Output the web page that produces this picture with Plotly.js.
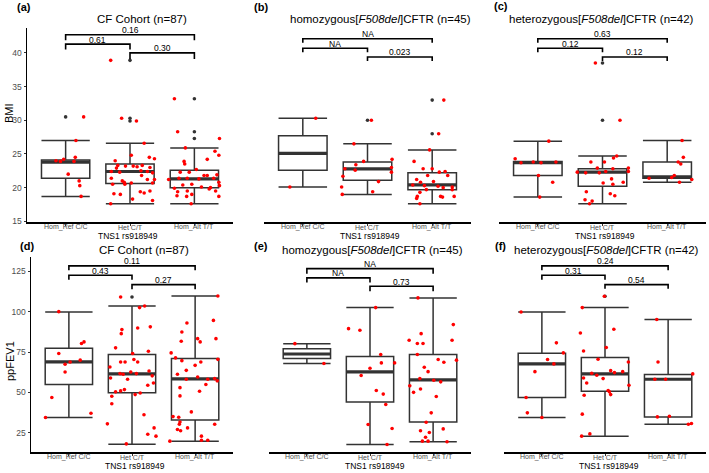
<!DOCTYPE html>
<html><head><meta charset="utf-8">
<script src="https://cdn.plot.ly/plotly-3.0.1.min.js"></script>
<style>html,body{margin:0;padding:0;background:#fff}#chart{width:709px;height:473px}</style>
</head><body><div id="chart"></div>
<script>
// ---------- data ----------
const categories = ['Hom_Ref C/C', 'Het C/T', 'Hom_Alt T/T'];
const xAxisTitle = 'TNS1 rs918949';
const panelLetters = ['(a)', '(b)', '(c)', '(d)', '(e)', '(f)'];
const panelTitles = ['CF Cohort (n=87)', 'homozygous[<i>F508del</i>]CFTR (n=45)', 'heterozygous[<i>F508del</i>]CFTR (n=42)',
                     'CF Cohort (n=87)', 'homozygous[<i>F508del</i>]CFTR (n=45)', 'heterozygous[<i>F508del</i>]CFTR (n=42)'];
const bmiTicks = [15, 20, 25, 30, 35, 40];
const fevTicks = [25, 50, 75, 100, 125];

// comparisons: [Ref vs Alt, Ref vs Het, Het vs Alt]
const compPairs = [[0, 2], [0, 1], [1, 2]];

// ----- (a) BMI, CF cohort -----
const bmiCF_lower = [18.7, 17.6, 17.6];
const bmiCF_q1 = [21.4, 20.6, 20.0];
const bmiCF_median = [23.8, 22.4, 21.3];
const bmiCF_q3 = [24.1, 23.5, 22.6];
const bmiCF_upper = [27.0, 26.6, 25.9];
const bmiCF_outGroup = [0, 1, 1, 1, 2, 2, 2];
const bmiCF_outValue = [30.5, 38.9, 30.3, 29.9, 33.2, 28.3, 27.3];
const bmiCF_ref = [30.5, 27.0, 24.5, 24.0, 23.9, 23.9, 22.0, 21.0, 20.3, 18.7, 24.2];
const bmiCF_refJitter = [0.28, 0.16, 0.15, -0.15, -0.08, 0.13, 0.04, 0.21, 0.22, 0.24, -0.03];
const bmiCF_het = [38.9, 30.3, 29.9, 26.6, 24.8, 24.0, 24.5, 24.3, 23.3, 22.9, 23.2, 23.2, 23.1, 23.3, 23.0, 22.4, 22.3, 22.5, 22.4, 22.2, 21.4, 21.0, 20.8, 20.7, 21.8, 21.2, 21.2, 20.5, 20.5, 20.7, 19.1, 19.0, 19.4, 19.2, 19.5, 18.3, 17.6, 18.1];
const bmiCF_hetJitter = [-0.30, -0.13, 0.10, 0.22, 0.02, -0.23, 0.30, 0.38, -0.19, -0.21, -0.07, 0.05, 0.11, 0.19, 0.31, -0.29, -0.16, 0.17, 0.27, 0.35, -0.29, -0.12, -0.09, 0.02, 0.18, 0.27, 0.38, -0.27, -0.08, 0.35, -0.25, -0.15, 0.16, 0.22, 0.31, 0.04, -0.30, 0.35];
const bmiCF_alt = [33.2, 28.3, 27.3, 25.9, 25.4, 24.2, 24.8, 23.9, 23.5, 22.7, 22.3, 22.3, 21.8, 21.8, 21.9, 21.2, 21.4, 21.4, 21.3, 21.4, 20.4, 20.5, 20.1, 20.0, 20.8, 20.3, 19.9, 19.4, 19.5, 19.8, 19.5, 18.8, 18.7, 19.0, 18.7, 17.6];
const bmiCF_altJitter = [-0.31, -0.26, 0.39, -0.14, 0.32, 0.20, 0.38, -0.16, -0.15, 0.03, -0.08, -0.22, 0.15, 0.20, 0.35, -0.40, -0.24, -0.11, 0.07, 0.30, -0.18, -0.04, 0.11, 0.25, 0.38, 0.39, -0.31, -0.26, -0.11, 0.23, 0.33, -0.27, -0.12, -0.04, 0.38, -0.05];
const bmiCF_pLabels = ['0.16', '0.61', '0.30'];
const bmiCF_bracketTop = [42.7, 41.3, 40.0];
const bmiCF_bracketTip = [41.9, 40.5, 39.1];

// ----- (b) BMI, homozygous -----
const bmiHom_lower = [20.1, 19.0, 17.6];
const bmiHom_q1 = [22.6, 21.1, 19.7];
const bmiHom_median = [25.1, 22.8, 20.4];
const bmiHom_q3 = [27.7, 23.8, 22.2];
const bmiHom_upper = [30.3, 26.5, 25.6];
const bmiHom_outGroup = [1, 2, 2];
const bmiHom_outValue = [30.0, 33.0, 28.0];
const bmiHom_ref = [30.3, 20.1];
const bmiHom_refJitter = [0.20, -0.20];
const bmiHom_het = [30.0, 26.5, 23.9, 23.4, 22.8, 22.6, 24.2, 23.0, 22.3, 20.9, 20.1, 19.0, 19.4, 21.7];
const bmiHom_hetJitter = [0.06, -0.21, -0.06, -0.18, -0.35, -0.19, 0.38, 0.37, 0.37, 0.17, -0.40, -0.39, 0.08, -0.38];
const bmiHom_alt = [33.0, 28.0, 25.6, 23.9, 22.8, 22.8, 22.3, 22.4, 21.8, 21.8, 21.2, 20.8, 20.4, 20.3, 20.9, 20.2, 20.0, 20.1, 19.7, 19.3, 19.7, 18.7, 18.4, 18.7, 18.6, 18.7, 17.6];
const bmiHom_altJitter = [0.18, 0.10, -0.04, -0.28, -0.14, 0.0, 0.11, 0.20, 0.24, -0.07, -0.24, -0.18, -0.30, -0.12, 0.02, 0.09, 0.17, 0.31, 0.31, -0.19, -0.09, -0.23, -0.24, 0.13, 0.16, 0.34, -0.19];
const bmiHom_pLabels = ['NA', 'NA', '0.023'];
const bmiHom_bracketTop = [42.1, 40.7, 39.4];
const bmiHom_bracketTip = [41.5, 40.1, 38.8];

// ----- (c) BMI, heterozygous -----
const bmiHet_lower = [18.6, 17.6, 20.8];
const bmiHet_q1 = [21.8, 20.2, 21.4];
const bmiHet_median = [23.7, 22.3, 21.6];
const bmiHet_q3 = [23.9, 22.8, 23.8];
const bmiHet_upper = [26.9, 24.7, 27.0];
const bmiHet_outGroup = [1, 1];
const bmiHet_outValue = [38.5, 30.0];
const bmiHet_ref = [26.9, 24.3, 23.7, 23.7, 23.8, 21.8, 20.8, 18.6, 23.8];
const bmiHet_refJitter = [0.17, -0.35, -0.26, 0.05, 0.28, 0.01, 0.23, 0.03, -0.07];
const bmiHet_het = [38.5, 30.0, 24.7, 24.4, 23.8, 23.8, 22.9, 22.4, 22.8, 22.9, 22.4, 22.3, 22.2, 22.2, 21.3, 20.7, 20.5, 20.8, 19.4, 19.1, 18.8, 18.2, 18.0, 17.6];
const bmiHet_hetJitter = [-0.11, 0.27, 0.22, 0.17, -0.18, 0.03, -0.08, 0.05, 0.16, 0.40, 0.40, -0.39, -0.26, -0.05, 0.14, 0.01, 0.16, 0.32, -0.25, 0.12, 0.19, -0.27, -0.16, -0.20];
const bmiHet_alt = [27.0, 24.5, 23.8, 23.5, 21.8, 21.5, 21.4, 21.2, 20.8];
const bmiHet_altJitter = [0.23, 0.25, 0.17, 0.21, 0.11, 0.07, -0.28, 0.38, 0.19];
const bmiHet_pLabels = ['0.63', '0.12', '0.12'];
const bmiHet_bracketTop = [42.1, 40.7, 39.4];
const bmiHet_bracketTip = [41.5, 40.1, 38.8];

// ----- (d) ppFEV1, CF cohort -----
const fevCF_lower = [34.5, 18.0, 19.9];
const fevCF_q1 = [54.9, 49.9, 33.0];
const fevCF_median = [68.9, 61.5, 58.4];
const fevCF_q3 = [77.4, 73.5, 71.0];
const fevCF_upper = [99.8, 103.5, 109.7];
const fevCF_outGroup = [1];
const fevCF_outValue = [109.1];
const fevCF_ref = [100.0, 81.3, 80.3, 74.1, 70.0, 68.9, 67.5, 62.7, 46.9, 37.2, 34.5];
const fevCF_refJitter = [-0.16, 0.24, 0.20, -0.16, 0.18, 0.02, -0.06, -0.06, -0.27, 0.35, -0.37];
const fevCF_het = [109.1, 102.5, 103.5, 90.6, 89.9, 88.9, 86.4, 77.6, 75.5, 74.1, 70.4, 65.8, 68.9, 68.9, 68.9, 63.3, 61.7, 61.3, 62.7, 61.7, 60.3, 59.0, 58.2, 54.5, 55.9, 50.4, 51.0, 51.8, 48.7, 49.7, 47.7, 43.0, 36.2, 30.6, 28.1, 24.2, 23.0, 18.2];
const fevCF_hetJitter = [-0.18, 0.12, 0.20, 0.29, 0.09, -0.16, -0.17, -0.26, 0.26, 0.01, 0.03, -0.35, -0.18, -0.11, 0.09, 0.27, -0.19, -0.14, -0.02, 0.07, 0.32, -0.34, -0.07, 0.25, 0.34, -0.26, -0.18, -0.12, 0.05, 0.13, -0.32, -0.32, 0.19, -0.39, 0.35, 0.25, 0.38, -0.09];
const fevCF_alt = [109.7, 94.6, 93.0, 87.4, 83.3, 83.3, 81.3, 81.7, 74.5, 71.4, 69.7, 68.9, 70.5, 66.8, 63.7, 61.3, 59.6, 58.2, 58.6, 57.2, 58.2, 53.0, 54.9, 50.8, 47.9, 38.0, 35.1, 34.7, 31.8, 30.4, 30.4, 27.1, 28.1, 26.3, 23.0, 19.9, 20.5, 20.5];
const fevCF_altJitter = [0.36, 0.29, -0.13, -0.21, 0.04, 0.33, 0.08, -0.22, -0.38, -0.31, -0.21, 0.09, 0.36, 0.0, -0.14, -0.28, 0.04, 0.20, 0.31, 0.35, -0.14, -0.24, 0.17, 0.07, -0.24, -0.06, -0.35, -0.26, -0.24, -0.25, 0.31, -0.28, -0.12, -0.23, 0.10, -0.40, 0.10, 0.20];
const fevCF_pLabels = ['0.11', '0.43', '0.27'];
const fevCF_bracketTop = [128.3, 122.5, 116.7];
const fevCF_bracketTip = [125.6, 119.8, 113.8];

// ----- (e) ppFEV1, homozygous -----
const fevHom_lower = [67.9, 17.8, 19.5];
const fevHom_q1 = [71.0, 44.2, 31.8];
const fevHom_median = [73.8, 62.7, 57.8];
const fevHom_q3 = [77.0, 72.2, 73.5];
const fevHom_upper = [80.2, 102.5, 108.5];
const fevHom_outGroup = [];
const fevHom_outValue = [];
const fevHom_ref = [80.2, 67.9];
const fevHom_refJitter = [-0.19, 0.27];
const fevHom_het = [102.5, 89.5, 88.5, 73.5, 68.3, 68.3, 65.0, 60.5, 51.2, 49.0, 42.6, 30.2, 27.7, 17.8];
const fevHom_hetJitter = [0.09, -0.34, -0.16, 0.17, 0.18, 0.39, 0.0, -0.14, 0.10, 0.21, 0.25, -0.03, 0.35, 0.27];
const fevHom_alt = [108.5, 92.0, 82.3, 86.4, 82.3, 80.3, 80.3, 73.5, 70.0, 70.4, 68.7, 65.6, 62.9, 58.6, 57.6, 56.6, 54.1, 52.2, 50.1, 47.5, 37.4, 31.6, 26.3, 25.3, 27.5, 22.3, 19.9, 19.9, 19.5];
const fevHom_altJitter = [-0.24, 0.32, 0.30, -0.19, -0.38, -0.25, -0.16, -0.25, 0.37, 0.08, 0.17, -0.14, -0.08, -0.21, 0.01, 0.12, -0.37, -0.20, -0.31, 0.05, -0.03, -0.11, -0.20, -0.06, 0.16, -0.12, -0.17, -0.08, 0.22];
const fevHom_pLabels = ['NA', 'NA', '0.73'];
const fevHom_bracketTop = [126.6, 120.9, 115.7];
const fevHom_bracketTip = [123.5, 118.0, 112.6];

// ----- (f) ppFEV1, heterozygous -----
const fevHet_lower = [34.5, 23.0, 30.4];
const fevHet_q1 = [46.9, 50.8, 34.9];
const fevHet_median = [67.7, 61.5, 58.2];
const fevHet_q3 = [74.3, 71.6, 61.2];
const fevHet_upper = [99.8, 102.5, 95.1];
const fevHet_outGroup = [1];
const fevHet_outValue = [109.5];
const fevHet_ref = [99.8, 80.7, 74.5, 70.4, 67.7, 62.9, 46.9, 37.4, 34.5];
const fevHet_refJitter = [-0.33, 0.23, 0.34, 0.09, 0.19, -0.11, -0.25, -0.23, 0.0];
const fevHet_het = [109.5, 102.5, 89.1, 86.8, 77.8, 75.7, 70.6, 68.9, 61.9, 60.7, 63.5, 62.3, 62.9, 59.0, 58.6, 55.9, 54.5, 51.2, 50.4, 48.7, 48.3, 36.6, 24.4, 23.0];
const fevHet_hetJitter = [-0.01, -0.36, 0.14, -0.39, 0.02, -0.34, -0.11, 0.37, -0.21, -0.13, 0.09, 0.15, 0.28, -0.34, -0.03, -0.29, 0.38, 0.05, 0.07, 0.09, -0.33, -0.36, -0.24, -0.37];
const fevHet_alt = [95.1, 68.9, 61.5, 58.2, 58.2, 34.9, 35.3, 30.4, 30.8];
const fevHet_altJitter = [-0.18, -0.16, 0.39, -0.21, -0.04, -0.17, 0.02, 0.32, 0.37];
const fevHet_pLabels = ['0.24', '0.31', '0.54'];
const fevHet_bracketTop = [128.3, 122.5, 116.7];
const fevHet_bracketTip = [125.6, 119.8, 114.2];

// ---------- assembly ----------
const panels = [
  {lower: bmiCF_lower, q1: bmiCF_q1, median: bmiCF_median, q3: bmiCF_q3, upper: bmiCF_upper, outG: bmiCF_outGroup, outV: bmiCF_outValue,
   pts: [[bmiCF_ref, bmiCF_refJitter], [bmiCF_het, bmiCF_hetJitter], [bmiCF_alt, bmiCF_altJitter]], p: bmiCF_pLabels, bTop: bmiCF_bracketTop, bTip: bmiCF_bracketTip},
  {lower: bmiHom_lower, q1: bmiHom_q1, median: bmiHom_median, q3: bmiHom_q3, upper: bmiHom_upper, outG: bmiHom_outGroup, outV: bmiHom_outValue,
   pts: [[bmiHom_ref, bmiHom_refJitter], [bmiHom_het, bmiHom_hetJitter], [bmiHom_alt, bmiHom_altJitter]], p: bmiHom_pLabels, bTop: bmiHom_bracketTop, bTip: bmiHom_bracketTip},
  {lower: bmiHet_lower, q1: bmiHet_q1, median: bmiHet_median, q3: bmiHet_q3, upper: bmiHet_upper, outG: bmiHet_outGroup, outV: bmiHet_outValue,
   pts: [[bmiHet_ref, bmiHet_refJitter], [bmiHet_het, bmiHet_hetJitter], [bmiHet_alt, bmiHet_altJitter]], p: bmiHet_pLabels, bTop: bmiHet_bracketTop, bTip: bmiHet_bracketTip},
  {lower: fevCF_lower, q1: fevCF_q1, median: fevCF_median, q3: fevCF_q3, upper: fevCF_upper, outG: fevCF_outGroup, outV: fevCF_outValue,
   pts: [[fevCF_ref, fevCF_refJitter], [fevCF_het, fevCF_hetJitter], [fevCF_alt, fevCF_altJitter]], p: fevCF_pLabels, bTop: fevCF_bracketTop, bTip: fevCF_bracketTip},
  {lower: fevHom_lower, q1: fevHom_q1, median: fevHom_median, q3: fevHom_q3, upper: fevHom_upper, outG: fevHom_outGroup, outV: fevHom_outValue,
   pts: [[fevHom_ref, fevHom_refJitter], [fevHom_het, fevHom_hetJitter], [fevHom_alt, fevHom_altJitter]], p: fevHom_pLabels, bTop: fevHom_bracketTop, bTip: fevHom_bracketTip},
  {lower: fevHet_lower, q1: fevHet_q1, median: fevHet_median, q3: fevHet_q3, upper: fevHet_upper, outG: fevHet_outGroup, outV: fevHet_outValue,
   pts: [[fevHet_ref, fevHet_refJitter], [fevHet_het, fevHet_hetJitter], [fevHet_alt, fevHet_altJitter]], p: fevHet_pLabels, bTop: fevHet_bracketTop, bTip: fevHet_bracketTip}
];

// layout geometry in pixels (left, right, top, bottom of each plotting area)
const W = 709, H = 473;
const geom = [
  {l: 27, r: 233, t: 28, b: 222},
  {l: 264, r: 471, t: 28, b: 222},
  {l: 499, r: 706, t: 28, b: 222},
  {l: 31, r: 233, t: 257, b: 452},
  {l: 269, r: 471, t: 257, b: 452},
  {l: 504, r: 706, t: 257, b: 452}
];
const yRanges = [[14.9, 43.7], [13.2, 133.8]];
const BOXW = 0.75;
const FONT = 'Liberation Sans, Arial, Helvetica, sans-serif';
const DARK = '#333333';

const traces = [];
const shapes = [];
const annotations = [];
const layout = {
  width: W, height: H, margin: {l: 0, r: 0, t: 0, b: 0},
  paper_bgcolor: '#ffffff', plot_bgcolor: 'rgba(0,0,0,0)', showlegend: false,
  font: {family: FONT, color: DARK}
};

const px2x = v => v / W;
const px2y = v => 1 - v / H;

panels.forEach((P, i) => {
  const n = i + 1;
  const sfx = n === 1 ? '' : String(n);
  const xa = 'x' + sfx, ya = 'y' + sfx;
  const g = geom[i];
  const isBmi = i < 3;
  const showY = (i === 0 || i === 3);

  layout['xaxis' + sfx] = {
    domain: [px2x(g.l), px2x(g.r)], anchor: ya, range: [-0.6, 2.6],
    tickvals: [0, 1, 2], showticklabels: false,
    showline: true, linecolor: '#000', linewidth: 1.5, ticks: 'outside', ticklen: 2, tickcolor: DARK, tickwidth: 1,
    showgrid: false, zeroline: false, fixedrange: true
  };
  layout['yaxis' + sfx] = {
    domain: [px2y(g.b), px2y(g.t)], anchor: xa, range: isBmi ? yRanges[0] : yRanges[1],
    tickvals: isBmi ? bmiTicks : fevTicks, tickfont: {size: 8.5, color: '#4d4d4d', family: FONT},
    showline: showY, linecolor: '#000', linewidth: 1.5, ticks: showY ? 'outside' : '', ticklen: 2, tickcolor: DARK,
    showticklabels: showY, showgrid: false, zeroline: false, fixedrange: true
  };

  // category labels right under the axis line
  categories.forEach((c, k) => annotations.push({xref: xa, yref: 'paper', x: k, y: px2y(g.b + 5),
    text: c, showarrow: false, xanchor: 'center', yanchor: 'middle', borderpad: 0,
    font: {size: 7, color: '#4d4d4d', family: FONT}}));

  // boxes
  traces.push({
    type: 'box', x: [0, 1, 2], q1: P.q1, median: P.median, q3: P.q3, lowerfence: P.lower, upperfence: P.upper,
    width: BOXW, whiskerwidth: 1, boxpoints: false, fillcolor: 'rgba(255,255,255,0)',
    line: {color: DARK, width: 1.5}, xaxis: xa, yaxis: ya, hoverinfo: 'skip'
  });
  // thick median bars
  const mx = [], my = [];
  P.median.forEach((m, k) => { mx.push(k - BOXW / 2, k + BOXW / 2, null); my.push(m, m, null); });
  traces.push({type: 'scatter', mode: 'lines', x: mx, y: my, line: {color: DARK, width: 3.2}, xaxis: xa, yaxis: ya, hoverinfo: 'skip'});
  // outliers
  if (P.outV.length) {
    traces.push({type: 'scatter', mode: 'markers', x: P.outG, y: P.outV, marker: {color: DARK, size: 3.6},
      xaxis: xa, yaxis: ya, hoverinfo: 'skip'});
  }
  // jittered observations
  const jx = [], jy = [];
  P.pts.forEach((pair, k) => {
    pair[0].forEach((v, j) => { jx.push(k + pair[1][j]); jy.push(v); });
  });
  traces.push({type: 'scatter', mode: 'markers', x: jx, y: jy, marker: {color: '#ff0000', size: 3.6},
    xaxis: xa, yaxis: ya, hoverinfo: 'skip'});

  // significance brackets
  compPairs.forEach((pr, k) => {
    const top = P.bTop[k], tip = P.bTip[k];
    shapes.push({type: 'path', xref: xa, yref: ya,
      path: `M ${pr[0]},${tip} L ${pr[0]},${top} L ${pr[1]},${top} L ${pr[1]},${tip}`,
      line: {color: '#000', width: 1.6}});
    annotations.push({xref: xa, yref: ya, x: (pr[0] + pr[1]) / 2, y: top, text: P.p[k], showarrow: false,
      xanchor: 'center', yanchor: 'middle', yshift: 4.5, borderpad: 0,
      font: {size: 8.5, color: '#000000', family: FONT}});
  });
});

// text placed in pixel positions
const letterPos = [[24, 7], [261, 7], [501, 6], [27, 246], [261, 246], [500, 246]];
const titlePos = [[142, 18.5], [380, 19], [601, 19], [144, 249.5], [373, 250], [606, 249.5]];
const xTitlePos = [[128, 236], [370, 236], [605, 236], [135, 466], [375, 466], [609, 466]];
letterPos.forEach((p, i) => annotations.push({xref: 'paper', yref: 'paper', x: px2x(p[0]), y: px2y(p[1]),
  text: '<b>' + panelLetters[i] + '</b>', showarrow: false, xanchor: 'center', yanchor: 'middle', borderpad: 0,
  font: {size: 11, color: '#000', family: FONT}}));
titlePos.forEach((p, i) => annotations.push({xref: 'paper', yref: 'paper', x: px2x(p[0]), y: px2y(p[1]),
  text: panelTitles[i], showarrow: false, xanchor: 'center', yanchor: 'middle', borderpad: 0,
  font: {size: 11.5, color: '#000', family: FONT}}));
xTitlePos.forEach((p, i) => annotations.push({xref: 'paper', yref: 'paper', x: px2x(p[0]), y: px2y(p[1]),
  text: xAxisTitle, showarrow: false, xanchor: 'center', yanchor: 'middle', borderpad: 0,
  font: {size: 8.5, color: '#000', family: FONT}}));
annotations.push({xref: 'paper', yref: 'paper', x: px2x(9), y: px2y(113), text: 'BMI', textangle: -90,
  showarrow: false, xanchor: 'center', yanchor: 'middle', font: {size: 11, color: '#000', family: FONT}});
annotations.push({xref: 'paper', yref: 'paper', x: px2x(10), y: px2y(361), text: 'ppFEV1', textangle: -90,
  showarrow: false, xanchor: 'center', yanchor: 'middle', font: {size: 11, color: '#000', family: FONT}});

layout.shapes = shapes;
layout.annotations = annotations;

Plotly.newPlot('chart', traces, layout, {staticPlot: true, displayModeBar: false});
</script>
</body></html>
